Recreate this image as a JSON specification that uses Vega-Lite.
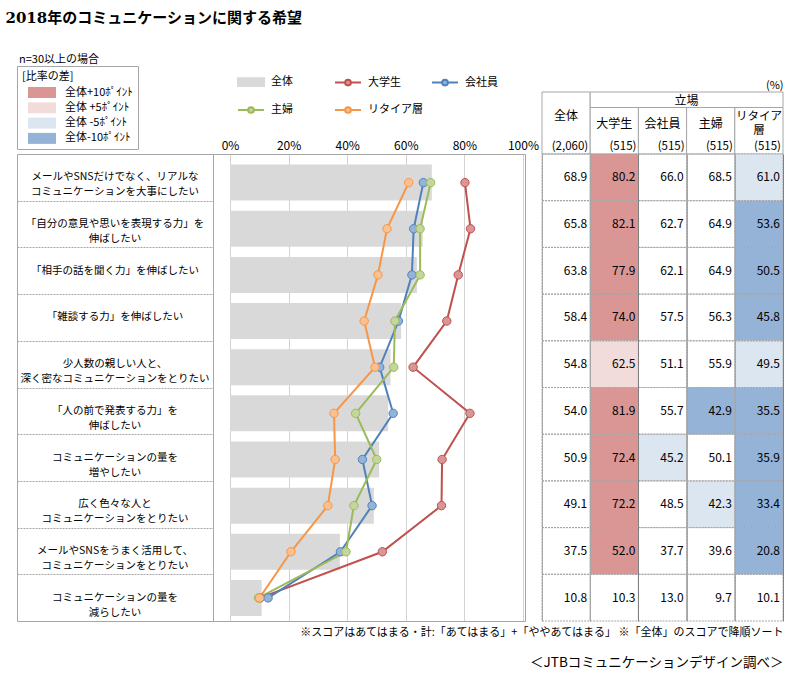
{
  "$schema": "https://vega.github.io/schema/vega-lite/v6.json",
  "background": "white",
  "padding": {"left": 5, "top": 11, "right": 10, "bottom": 5},
  "title": {"text": "2018年のコミュニケーションに関する希望", "anchor": "start", "dx": -11, "offset": 28, "font": "DejaVu Serif, Noto Sans CJK JP", "fontSize": 15, "fontWeight": "bold", "color": "#000"},
  "config": {
    "font": "Noto Sans CJK JP",
    "view": {"stroke": null},
    "title": {"color": "#000", "fontWeight": "normal"},
    "text": {"color": "#000"},
    "axis": {"labelColor": "#000", "labelFont": "Noto Sans CJK JP"}
  },
  "datasets": {
    "items": [
      {"no": 1, "item": "メールやSNSだけでなく、リアルな\nコミュニケーションを大事にしたい"},
      {"no": 2, "item": "「自分の意見や思いを表現する力」を\n伸ばしたい"},
      {"no": 3, "item": "「相手の話を聞く力」を伸ばしたい"},
      {"no": 4, "item": "「雑談する力」を伸ばしたい"},
      {"no": 5, "item": "少人数の親しい人と、\n深く密なコミュニケーションをとりたい"},
      {"no": 6, "item": "「人の前で発表する力」を\n伸ばしたい"},
      {"no": 7, "item": "コミュニケーションの量を\n増やしたい"},
      {"no": 8, "item": "広く色々な人と\nコミュニケーションをとりたい"},
      {"no": 9, "item": "メールやSNSをうまく活用して、\nコミュニケーションをとりたい"},
      {"no": 10, "item": "コミュニケーションの量を\n減らしたい"}
    ],
    "header": [
      {"col": "全体", "label": "全体", "n": "(2,060)"},
      {"col": "大学生", "label": "大学生", "n": "(515)"},
      {"col": "会社員", "label": "会社員", "n": "(515)"},
      {"col": "主婦", "label": "主婦", "n": "(515)"},
      {"col": "リタイア層", "label": "リタイア\n層", "n": "(515)"}
    ],
    "scores": [
      {"no": 1, "s": "全体", "v": 68.9, "d": ""},
      {"no": 1, "s": "大学生", "v": 80.2, "d": "全体+10ﾎﾟｲﾝﾄ"},
      {"no": 1, "s": "会社員", "v": 66.0, "d": ""},
      {"no": 1, "s": "主婦", "v": 68.5, "d": ""},
      {"no": 1, "s": "リタイア層", "v": 61.0, "d": "全体 -5ﾎﾟｲﾝﾄ"},
      {"no": 2, "s": "全体", "v": 65.8, "d": ""},
      {"no": 2, "s": "大学生", "v": 82.1, "d": "全体+10ﾎﾟｲﾝﾄ"},
      {"no": 2, "s": "会社員", "v": 62.7, "d": ""},
      {"no": 2, "s": "主婦", "v": 64.9, "d": ""},
      {"no": 2, "s": "リタイア層", "v": 53.6, "d": "全体-10ﾎﾟｲﾝﾄ"},
      {"no": 3, "s": "全体", "v": 63.8, "d": ""},
      {"no": 3, "s": "大学生", "v": 77.9, "d": "全体+10ﾎﾟｲﾝﾄ"},
      {"no": 3, "s": "会社員", "v": 62.1, "d": ""},
      {"no": 3, "s": "主婦", "v": 64.9, "d": ""},
      {"no": 3, "s": "リタイア層", "v": 50.5, "d": "全体-10ﾎﾟｲﾝﾄ"},
      {"no": 4, "s": "全体", "v": 58.4, "d": ""},
      {"no": 4, "s": "大学生", "v": 74.0, "d": "全体+10ﾎﾟｲﾝﾄ"},
      {"no": 4, "s": "会社員", "v": 57.5, "d": ""},
      {"no": 4, "s": "主婦", "v": 56.3, "d": ""},
      {"no": 4, "s": "リタイア層", "v": 45.8, "d": "全体-10ﾎﾟｲﾝﾄ"},
      {"no": 5, "s": "全体", "v": 54.8, "d": ""},
      {"no": 5, "s": "大学生", "v": 62.5, "d": "全体 +5ﾎﾟｲﾝﾄ"},
      {"no": 5, "s": "会社員", "v": 51.1, "d": ""},
      {"no": 5, "s": "主婦", "v": 55.9, "d": ""},
      {"no": 5, "s": "リタイア層", "v": 49.5, "d": "全体 -5ﾎﾟｲﾝﾄ"},
      {"no": 6, "s": "全体", "v": 54.0, "d": ""},
      {"no": 6, "s": "大学生", "v": 81.9, "d": "全体+10ﾎﾟｲﾝﾄ"},
      {"no": 6, "s": "会社員", "v": 55.7, "d": ""},
      {"no": 6, "s": "主婦", "v": 42.9, "d": "全体-10ﾎﾟｲﾝﾄ"},
      {"no": 6, "s": "リタイア層", "v": 35.5, "d": "全体-10ﾎﾟｲﾝﾄ"},
      {"no": 7, "s": "全体", "v": 50.9, "d": ""},
      {"no": 7, "s": "大学生", "v": 72.4, "d": "全体+10ﾎﾟｲﾝﾄ"},
      {"no": 7, "s": "会社員", "v": 45.2, "d": "全体 -5ﾎﾟｲﾝﾄ"},
      {"no": 7, "s": "主婦", "v": 50.1, "d": ""},
      {"no": 7, "s": "リタイア層", "v": 35.9, "d": "全体-10ﾎﾟｲﾝﾄ"},
      {"no": 8, "s": "全体", "v": 49.1, "d": ""},
      {"no": 8, "s": "大学生", "v": 72.2, "d": "全体+10ﾎﾟｲﾝﾄ"},
      {"no": 8, "s": "会社員", "v": 48.5, "d": ""},
      {"no": 8, "s": "主婦", "v": 42.3, "d": "全体 -5ﾎﾟｲﾝﾄ"},
      {"no": 8, "s": "リタイア層", "v": 33.4, "d": "全体-10ﾎﾟｲﾝﾄ"},
      {"no": 9, "s": "全体", "v": 37.5, "d": ""},
      {"no": 9, "s": "大学生", "v": 52.0, "d": "全体+10ﾎﾟｲﾝﾄ"},
      {"no": 9, "s": "会社員", "v": 37.7, "d": ""},
      {"no": 9, "s": "主婦", "v": 39.6, "d": ""},
      {"no": 9, "s": "リタイア層", "v": 20.8, "d": "全体-10ﾎﾟｲﾝﾄ"},
      {"no": 10, "s": "全体", "v": 10.8, "d": ""},
      {"no": 10, "s": "大学生", "v": 10.3, "d": ""},
      {"no": 10, "s": "会社員", "v": 13.0, "d": ""},
      {"no": 10, "s": "主婦", "v": 9.7, "d": ""},
      {"no": 10, "s": "リタイア層", "v": 10.1, "d": ""}
    ]
  },
  "bounds": "flush",
  "columns": 3,
  "spacing": 0,
  "concat": [
    {
      "width": 196,
      "height": 62,
      "title": {"text": "n=30以上の場合", "anchor": "start", "fontSize": 11, "offset": 27, "dx": 2},
      "data": {"values": [{}]},
      "mark": {"type": "rect", "opacity": 0}
    },
    {
      "width": 312,
      "height": 62,
      "data": {"values": [{}]},
      "mark": {"type": "rect", "opacity": 0}
    },
    {
      "width": 258,
      "height": 62,
      "title": {"text": "(%)", "anchor": "end", "fontSize": 11, "offset": 1},
      "data": {"name": "header"},
      "encoding": {
        "x": {"field": "col", "type": "nominal", "scale": {"domain": ["全体", "大学生", "会社員", "主婦", "リタイア層"], "paddingInner": 0, "paddingOuter": 0.1763, "align": 1}, "axis": null}
      },
      "layer": [
        {
          "transform": [{"filter": "datum.col == '全体'"}],
          "mark": {"type": "rect", "fill": "white", "stroke": "#a6a6a6"},
          "encoding": {
            "y": {"datum": 0, "type": "quantitative", "scale": {"domain": [0, 4], "reverse": true, "nice": false, "zero": false}, "axis": null},
            "y2": {"datum": 4}
          }
        },
        {
          "transform": [{"filter": "datum.col != '全体'"}],
          "mark": {"type": "rect", "fill": "white", "stroke": "#a6a6a6"},
          "encoding": {
            "y": {"datum": 1, "type": "quantitative"},
            "y2": {"datum": 4}
          }
        },
        {
          "transform": [{"filter": "datum.col == '大学生'"}],
          "mark": {"type": "rect", "fill": "white", "stroke": "#a6a6a6"},
          "encoding": {
            "x": {"field": "col", "type": "nominal", "bandPosition": 0},
            "x2": {"datum": "リタイア層", "bandPosition": 1},
            "y": {"datum": 0, "type": "quantitative"},
            "y2": {"datum": 1}
          }
        },
        {
          "transform": [{"filter": "datum.col == '全体'"}],
          "mark": {"type": "text", "fontSize": 12, "baseline": "middle"},
          "encoding": {"y": {"datum": 1.55, "type": "quantitative"}, "text": {"field": "label"}}
        },
        {
          "transform": [{"filter": "datum.col != '全体' && datum.col != 'リタイア層'"}],
          "mark": {"type": "text", "fontSize": 12, "baseline": "middle"},
          "encoding": {"y": {"datum": 2.05, "type": "quantitative"}, "text": {"field": "label"}}
        },
        {
          "transform": [{"filter": "datum.col == 'リタイア層'"}],
          "mark": {"type": "text", "fontSize": 11.5, "baseline": "middle", "lineBreak": "\n", "lineHeight": 14},
          "encoding": {"y": {"datum": 1.62, "type": "quantitative"}, "text": {"field": "label"}}
        },
        {
          "transform": [{"filter": "datum.col == '主婦'"}],
          "mark": {"type": "text", "fontSize": 12, "baseline": "middle"},
          "encoding": {"x": {"field": "col", "type": "nominal", "bandPosition": 0}, "y": {"datum": 0.55, "type": "quantitative"}, "text": {"value": "立場"}}
        },
        {
          "mark": {"type": "text", "fontSize": 11.5, "baseline": "middle", "align": "right", "dx": -2},
          "encoding": {"x": {"field": "col", "type": "nominal", "bandPosition": 1}, "y": {"datum": 3.55, "type": "quantitative"}, "text": {"field": "n"}}
        }
      ]
    },
    {
      "width": 196,
      "height": 467,
      "view": {"stroke": "#a6a6a6"},
      "data": {"name": "items"},
      "mark": {"type": "text", "fontSize": 10.5, "lineBreak": "\n", "lineHeight": 15, "align": "center", "baseline": "middle"},
      "encoding": {
        "y": {"field": "no", "type": "ordinal", "scale": {"paddingInner": 0, "paddingOuter": 0}, "axis": {"labels": false, "ticks": false, "domain": false, "title": null, "grid": true, "tickBand": "extent", "gridDash": [2, 1], "gridColor": "#a6a6a6"}},
        "text": {"field": "item"}
      }
    },
    {
      "width": 312,
      "height": 467,
      "view": {"stroke": "#a6a6a6"},
      "data": {"name": "scores"},
      "encoding": {
        "y": {"field": "no", "type": "ordinal", "scale": {"paddingInner": 0, "paddingOuter": 0.06, "align": 1}, "axis": null},
        "x": {"field": "v", "type": "quantitative", "scale": {"domain": [-5.8, 100.7], "nice": false, "zero": false}, "axis": {"orient": "top", "values": [0, 20, 40, 60, 80, 100], "labelExpr": "datum.value + '%'", "grid": true, "gridDash": [1, 1], "gridColor": "#a6a6a6", "domain": false, "ticks": false, "labelFontSize": 12, "labelPadding": 2, "title": null}}
      },
      "layer": [
        {
          "transform": [{"filter": "datum.s == '全体'"}],
          "mark": {"type": "bar", "height": {"band": 0.78}},
          "encoding": {
            "fill": {"field": "s", "type": "nominal", "scale": {"domain": ["全体", "大学生", "会社員", "主婦", "リタイア層"], "range": ["#d9d9d9", "#d99694", "#95b3d7", "#c3d69b", "#fac090"]},
              "legend": {"title": null, "orient": "none", "legendX": 220, "legendY": -24, "direction": "horizontal", "columns": 3, "gridAlign": "all", "columnPadding": 5, "rowPadding": 6, "padding": 0, "symbolSize": 676, "symbolStrokeWidth": 2, "labelFontSize": 11, "labelOffset": 6, "labelColor": "#000",
                "encode": {"symbols": {"update": {"shape": {"signal": "datum.value === '全体' ? 'M-1,-0.3H1V0.3H-1Z' : 'M-1,0H-0.22M0.22,0H1M0.22,0A0.22,0.22,0,1,1,-0.22,0A0.22,0.22,0,1,1,0.22,0'"}}}}}}
          }
        },
        {
          "transform": [{"filter": "datum.s != '全体'"}],
          "mark": {"type": "line", "strokeWidth": 2},
          "encoding": {
            "stroke": {"field": "s", "type": "nominal", "scale": {"domain": ["全体", "大学生", "会社員", "主婦", "リタイア層"], "range": ["#d9d9d9", "#c0504d", "#4f81bd", "#9bbb59", "#f79646"]},
              "legend": {"title": null, "orient": "none", "legendX": 220, "legendY": -24, "direction": "horizontal", "columns": 3, "gridAlign": "all", "columnPadding": 5, "rowPadding": 6, "padding": 0, "symbolSize": 676, "symbolStrokeWidth": 2, "labelFontSize": 11, "labelOffset": 6, "labelColor": "#000",
                "encode": {"symbols": {"update": {"shape": {"signal": "datum.value === '全体' ? 'M-1,-0.3H1V0.3H-1Z' : 'M-1,0H-0.22M0.22,0H1M0.22,0A0.22,0.22,0,1,1,-0.22,0A0.22,0.22,0,1,1,0.22,0'"}}}}}},
            "order": {"field": "no", "type": "quantitative"}
          }
        },
        {
          "transform": [{"filter": "datum.s != '全体'"}],
          "mark": {"type": "point", "filled": true, "opacity": 1, "size": 70, "strokeWidth": 1},
          "encoding": {
            "fill": {"field": "s", "type": "nominal"},
            "stroke": {"field": "s", "type": "nominal"}
          }
        }
      ]
    },
    {
      "width": 258,
      "height": 467,
      "title": {"text": "※スコアはあてはまる・計:「あてはまる」+「ややあてはまる」 ※「全体」のスコアで降順ソート", "subtitle": "＜JTBコミュニケーションデザイン調べ＞", "orient": "bottom", "anchor": "end", "fontSize": 11, "subtitleFontSize": 13.5, "subtitlePadding": 18, "offset": 5, "subtitleColor": "#000"},
      "data": {"name": "scores"},
      "encoding": {
        "x": {"field": "s", "type": "nominal", "scale": {"domain": ["全体", "大学生", "会社員", "主婦", "リタイア層"], "paddingInner": 0, "paddingOuter": 0.1763, "align": 1}, "axis": {"orient": "top", "labels": false, "ticks": false, "domain": false, "title": null, "grid": true, "tickBand": "extent", "zindex": 1, "gridColor": {"condition": {"test": "datum.value == '大学生' || datum.value == 'リタイア層'", "value": "#808080"}, "value": "#a6a6a6"}}},
        "y": {"field": "no", "type": "ordinal", "scale": {"paddingInner": 0, "paddingOuter": 0}, "axis": null}
      },
      "layer": [
        {
          "transform": [{"filter": "datum.d != ''"}],
          "mark": {"type": "rect"},
          "encoding": {
            "color": {"field": "d", "type": "nominal", "scale": {"domain": ["全体+10ﾎﾟｲﾝﾄ", "全体 +5ﾎﾟｲﾝﾄ", "全体 -5ﾎﾟｲﾝﾄ", "全体-10ﾎﾟｲﾝﾄ"], "range": ["#da9694", "#f2dcdb", "#dce6f1", "#95b3d7"]},
              "legend": {"title": "[比率の差]", "orient": "none", "legendX": 0, "legendY": -26, "strokeColor": "#a6a6a6", "padding": 5, "titleFontSize": 11, "titleFontWeight": "normal", "titleColor": "#000", "titlePadding": 5, "symbolType": "M-2.55,-1H2.55V1H-2.55Z", "symbolSize": 121, "symbolStrokeWidth": 0, "symbolOffset": 14.5, "labelOffset": 17.5, "labelFontSize": 11, "rowPadding": 3.3, "labelColor": "#000"}}
          }
        },
        {
          "mark": {"type": "rect", "filled": false, "stroke": "#a6a6a6", "strokeDash": [2, 1], "strokeWidth": 1},
          "encoding": {}
        },
        {
          "mark": {"type": "text", "align": "right", "baseline": "middle", "dx": -3, "fontSize": 12},
          "encoding": {
            "x": {"field": "s", "type": "nominal", "bandPosition": 1},
            "text": {"field": "v", "type": "quantitative", "format": ".1f"}
          }
        }
      ]
    }
  ]
}
